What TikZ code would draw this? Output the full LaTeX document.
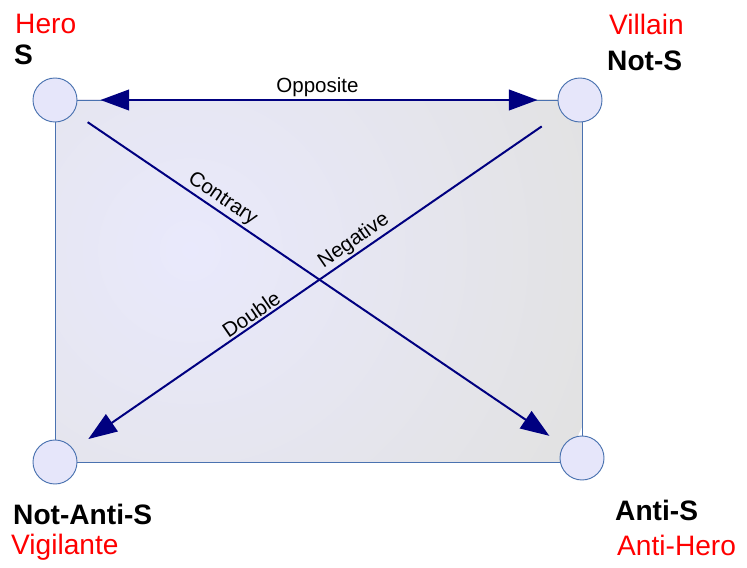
\documentclass[tikz,border=0pt]{standalone}
\usepackage{fontspec}
\setmainfont{Liberation Sans}
\usetikzlibrary{arrows.meta, positioning, backgrounds}

\definecolor{navyline}{RGB}{0,0,128}
\definecolor{frameblue}{RGB}{74,114,176}
\definecolor{dotfill}{RGB}{230,230,250}
\definecolor{panelin}{RGB}{233,233,252}
\definecolor{panelout}{RGB}{226,226,226}

\begin{document}
\begin{tikzpicture}[
    x=0.03cm, y=-0.03cm,
    >={Triangle[length=0.86cm, width=0.62cm]},
    corner/.style={circle, draw=frameblue, fill=dotfill, minimum size=1.32cm, inner sep=0pt, line width=0.8pt},
    frame/.style={draw=frameblue, line width=0.8pt},
    arrow/.style={->, draw=navyline, fill=navyline, line width=1.7pt},
    role/.style={font=\fontsize{24}{28}\selectfont, text=red, anchor=base west, inner sep=0pt},
    term/.style={font=\fontsize{24}{28}\selectfont\bfseries, text=black, anchor=base west, inner sep=0pt},
    rel/.style={font=\fontsize{17.5}{21}\selectfont, inner sep=1.5pt},
]
\useasboundingbox (0,0) rectangle (747,568);

% --- Corners ---
\node[corner] (hero) at (55,100) {};
\node[corner] (villain) at (580,100) {};
\node[corner] (vigil) at (55,462) {};
\node[corner] (antihero) at (582,458) {};

% --- Panel behind ---
\begin{scope}[on background layer]
\begin{scope}
\clip (hero.center) rectangle (antihero.center |- vigil.center);
\shade[inner color=panelin, outer color=panelout] (190,250) circle (430);
\end{scope}
\draw[frame] (hero.center) rectangle (antihero.center |- vigil.center);
\end{scope}

% --- Corner labels ---
\node[role] (herolbl) at (15,34) {Hero};
\node[term] (s) at (14,65) {S};
\node[role] (villainlbl) at (609,35) {Villain};
\node[term] (nots) at (607,71) {Not-S};
\node[term] (notantis) at (13,524) {Not-Anti-S};
\node[role] (vigillbl) at (11,554) {Vigilante};
\node[term] (antis) at (615,520) {Anti-S};
\node[role] (antiherolbl) at (617,555) {Anti-Hero};

% --- Relations ---
\draw[arrow, <->, shorten <=0.69cm, shorten >=0.6cm] (hero) -- node[rel, above] {Opposite} (villain);
\draw[arrow, shorten <=0.51cm, shorten >=0.51cm] (hero) -- node[rel, sloped, above, pos=0.29] {Contrary} (antihero);
\draw[arrow, <-, shorten <=0.54cm, shorten >=0.72cm] (vigil) -- node[rel, sloped, above, pos=0.376] {Double} node[rel, sloped, above, pos=0.589] {Negative} (villain);

\end{tikzpicture}
\end{document}
